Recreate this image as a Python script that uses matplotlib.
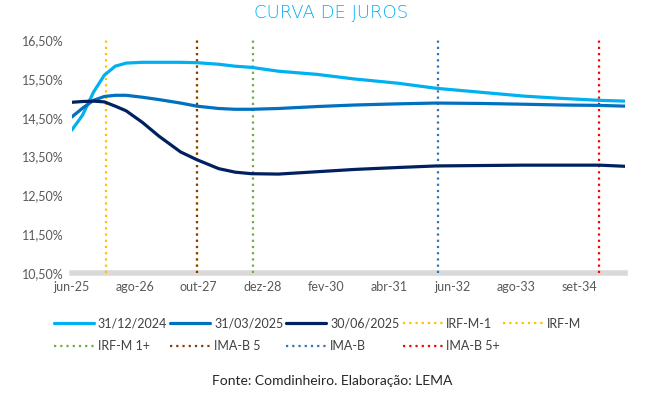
import matplotlib.pyplot as plt

# prazo em anos a partir de jun-25
prazo = [0, 0.2, 0.4, 0.6, 0.8, 1.0, 1.3, 1.6, 2.0, 2.3, 2.7, 3.0, 3.3, 3.8,
         4.5, 5.2, 6.0, 6.7, 7.5, 8.3, 9.0, 9.7, 10.17]

dez24 = [14.18, 14.57, 15.16, 15.6, 15.83, 15.91, 15.93, 15.93, 15.93, 15.92, 15.88,
         15.83, 15.8, 15.7, 15.62, 15.5, 15.39, 15.26, 15.16, 15.06, 15.0, 14.95, 14.93]
mar25 = [14.52, 14.75, 14.95, 15.05, 15.08, 15.08, 15.03, 14.97, 14.88, 14.8, 14.74,
         14.72, 14.72, 14.74, 14.79, 14.83, 14.86, 14.88, 14.87, 14.85, 14.83, 14.82, 14.8]
jun25 = [14.9, 14.92, 14.93, 14.91, 14.8, 14.68, 14.38, 14.03, 13.62, 13.42, 13.19,
         13.1, 13.06, 13.05, 13.11, 13.17, 13.22, 13.26, 13.27, 13.28, 13.28, 13.28, 13.25]

# duration dos indices (anos)
indices = ["IRF-M-1", "IRF-M", "IRF-M 1+", "IMA-B 5", "IMA-B", "IMA-B 5+"]
duration = [0.63, 2.3, 3.33, 2.3, 6.73, 9.68]
cores_ind = ["#ffc000", "#ffc000", "#70ad47", "#843c0c", "#2e75b6", "#ff0000"]

xticks = [i * 14 / 12 for i in range(9)]
xlabels = ["jun-25", "ago-26", "out-27", "dez-28", "fev-30", "abr-31", "jun-32", "ago-33", "set-34"]
yticks = [10.5, 11.5, 12.5, 13.5, 14.5, 15.5, 16.5]

plt.rcParams['font.family'] = ['Lato', 'DejaVu Sans']

fig = plt.figure(figsize=(6.52, 3.94), dpi=100)
ax = fig.add_axes([0.110, 0.307, 0.849, 0.591])

handles = {}
handles["31/12/2024"], = ax.plot(prazo, dez24, color="#00b0f0", lw=2.3, solid_capstyle='round', zorder=3)
handles["31/03/2025"], = ax.plot(prazo, mar25, color="#0070c0", lw=2.3, solid_capstyle='round', zorder=3)
handles["30/06/2025"], = ax.plot(prazo, jun25, color="#002060", lw=2.3, solid_capstyle='round', zorder=4)

for nome, d, c in zip(indices, duration, cores_ind):
    handles[nome], = ax.plot([d, d], [10.5, 16.5], color=c, lw=1.6,
                             linestyle=(0, (1, 1.8)), zorder=2)

ax.set_xlim(0, 10.17)
ax.set_ylim(10.5, 16.5)
ax.set_xticks(xticks)
ax.set_xticklabels(xlabels, fontsize=9, color="#595959")
ax.set_yticks(yticks)
ax.set_yticklabels([f"{v:.2f}%".replace(".", ",") for v in yticks], fontsize=9, color="#595959")
ax.tick_params(length=0, pad=6)
for s in ["top", "right", "left"]:
    ax.spines[s].set_visible(False)
ax.spines["bottom"].set_color("#d9d9d9")
ax.spines["bottom"].set_linewidth(4)
ax.spines["bottom"].set_zorder(1)

fig.text(0.507, 0.968, "CURVA DE JUROS", ha="center", va="center", fontsize=13,
         color="#00b0f0", family="DejaVu Sans", fontweight="light")

ordem = ["31/12/2024", "31/03/2025", "30/06/2025", "IRF-M-1", "IRF-M",
         "IRF-M 1+", "IMA-B 5", "IMA-B", "IMA-B 5+"]
# legenda preenche por coluna: reordena para parecer por linha
col_order = [0, 5, 1, 6, 2, 7, 3, 8, 4]
labs = [ordem[i] for i in col_order]
fig.legend([handles[l] for l in labs], labs, loc="center", bbox_to_anchor=(0.487, 0.15),
           ncol=5, frameon=False, fontsize=9, handlelength=3.2, handletextpad=0.3,
           columnspacing=0.25, labelspacing=0.85, labelcolor="#404040")

fig.text(0.51, 0.032, "Fonte: Comdinheiro. Elaboração: LEMA", ha="center", va="center",
         fontsize=10, color="#262626")

fig.savefig("out.png", dpi=100)
